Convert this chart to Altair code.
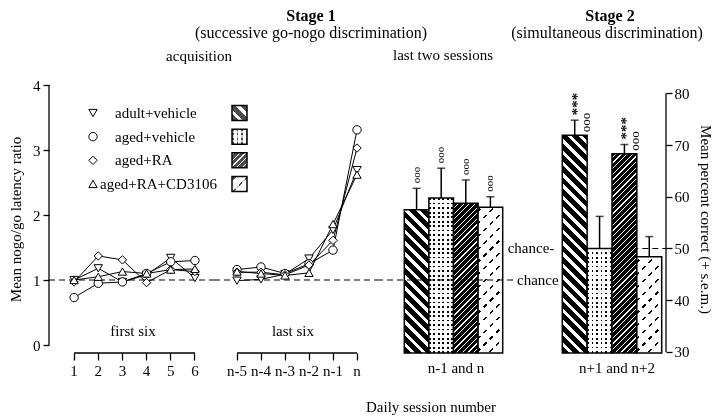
import math
import altair as alt
import pandas as pd

SERIF = "Liberation Serif"

# ---------------- data ----------------
groups = ["adult+vehicle", "aged+vehicle", "aged+RA", "aged+RA+CD3106"]
shapes = ["triangle-down", "circle", "diamond", "triangle-up"]
sessions_first = ["1", "2", "3", "4", "5", "6"]
sessions_last = ["n-5", "n-4", "n-3", "n-2", "n-1", "n"]

ratio_adult_vehicle = [1.00, 1.18, 0.97, 1.08, 1.34, 1.03, 0.99, 1.01, 1.09, 1.33, 1.77, 2.69]
ratio_aged_vehicle = [0.73, 0.95, 0.97, 1.10, 1.28, 1.30, 1.16, 1.20, 1.10, 1.25, 1.46, 3.31]
ratio_aged_ra = [0.97, 1.37, 1.31, 0.96, 1.16, 1.13, 1.12, 1.12, 1.08, 1.23, 1.61, 3.03]
ratio_aged_ra_cd3106 = [1.00, 1.05, 1.13, 1.10, 1.16, 1.17, 1.13, 1.10, 1.07, 1.11, 1.86, 2.62]

stage1_mean = [2.08, 2.26, 2.18, 2.12]
stage1_sem_top = [2.41, 2.72, 2.54, 2.28]
stage1_vs_chance = ["ooo", "ooo", "ooo", "ooo"]

stage2_mean = [71.9, 50.0, 68.3, 48.4]
stage2_sem_top = [74.8, 56.2, 70.1, 52.3]
stage2_vs_chance = ["ooo", "", "ooo", ""]
stage2_vs_aged = ["***", "", "***", ""]

ratio_ticks = [0, 1, 2, 3, 4]
percent_ticks = [30, 40, 50, 60, 70, 80]
chance_ratio = 1
chance_percent = 50

# ---------------- layout ----------------
H = 268
W_A, W_B, W_C, W_D = 166, 165, 133, 153
RANGE_A = [13, 158]
RANGE_B = [10, 154]
RANGE_C = [24.3, 122.7]
RANGE_D = [49.3, 148.7]
RATIO_DOMAIN = [-0.123, 4]
PCT_DOMAIN = [29.8, 81.6]
LEG_SIDE = 15

ratio_scale = alt.Scale(domain=RATIO_DOMAIN, nice=False, zero=False)
pct_scale = alt.Scale(domain=PCT_DOMAIN, nice=False, zero=False)
shape_scale = alt.Scale(domain=groups, range=shapes)

# ---------------- tables ----------------
all_vals = [ratio_adult_vehicle, ratio_aged_vehicle, ratio_aged_ra, ratio_aged_ra_cd3106]
rows = []
for g, vals in zip(groups, all_vals):
    for i, (s, v) in enumerate(zip(sessions_first + sessions_last, vals)):
        rows.append({"group": g, "session": s, "ratio": v, "idx": i,
                     "phase": "first" if i < 6 else "last"})
lines_df = pd.DataFrame(rows)

stage1_df = pd.DataFrame({"group": groups, "mean": stage1_mean, "top": stage1_sem_top,
                          "ooo": stage1_vs_chance})
stage2_df = pd.DataFrame({"group": groups, "mean": stage2_mean, "top": stage2_sem_top,
                          "ooo": stage2_vs_chance, "stars": stage2_vs_aged})
legend_df = pd.DataFrame({"group": groups})


# ---------------- pattern fills ----------------
def stripes(w, h, d, period, duty, ink="black", paper="white"):
    dx, dy = d
    gx, gy = dy / h, -dx / w
    corners = [(0, 0), (1, 0), (0, 1), (1, 1)]
    proj = [cx * gx + cy * gy for cx, cy in corners]
    lo = min(proj)
    R = max(proj) - lo
    p1 = corners[proj.index(lo)]
    g2 = gx * gx + gy * gy
    x2 = p1[0] + gx * R / g2
    y2 = p1[1] + gy * R / g2
    n = math.hypot(dx, dy)
    nx, ny = dy / n, -dx / n
    pp = [cx * w * nx + cy * h * ny for cx, cy in corners]
    L = max(pp) - min(pp)
    stops = []
    k = 0
    while k * period < L:
        a = k * period / L
        b = min((k + duty) * period / L, 1.0)
        c = min((k + 1) * period / L, 1.0)
        stops += [(a, ink), (b, ink), (b, paper), (c, paper)]
        k += 1
    return alt.LinearGradient(
        gradient="linear", x1=p1[0], y1=p1[1], x2=round(x2, 5), y2=round(y2, 5),
        stops=[alt.GradientStop(offset=round(o, 5), color=col) for o, col in stops])


def pattern_layers(chart, kind, w, h, mark):
    def mk(**kw):
        if mark == "bar":
            return chart.mark_bar(**kw)
        return chart.mark_square(size=LEG_SIDE * LEG_SIDE, **kw)
    out = []
    if kind == 0:
        out.append(mk(fill=stripes(w, h, (1, 1), 8, 0.6), strokeWidth=0))
    elif kind == 1:
        out.append(mk(fill=stripes(w, h, (0, 1), 4.5, 0.38), strokeWidth=0))
        out.append(mk(fill=stripes(w, h, (1, 0), 4.5, 0.38), strokeWidth=0, blend="lighten"))
    elif kind == 2:
        out.append(mk(fill=stripes(w, h, (1, -1), 4, 0.78), strokeWidth=0))
    else:
        out.append(mk(fill=stripes(w, h, (1, -1), 9, 0.18), strokeWidth=0))
        out.append(mk(fill=stripes(w, h, (1, 1), 9, 0.5), strokeWidth=0, blend="lighten"))
    out.append(mk(fillOpacity=0, stroke="black", strokeWidth=1.5))
    return out


def label(text, x, y, size=15, weight="normal", align="center"):
    return alt.Chart(pd.DataFrame({"t": [text]})).mark_text(
        font=SERIF, fontSize=size, fontWeight=weight, align=align, baseline="middle",
        color="black").encode(x=alt.value(x), y=alt.value(y), text="t:N")


AX_X = alt.Axis(title=None, domain=False, ticks=True, tickSize=7, tickWidth=1.3,
                labelPadding=3, labelAngle=0, labelFontSize=15)
AX_LEFT = alt.Axis(values=ratio_ticks, title="Mean nogo/go latency ratio", domain=False,
                   tickSize=6, tickWidth=1.3, labelPadding=3, titlePadding=9, format="d",
                   labelFlush=False)
AX_RIGHT = alt.Axis(orient="right", values=percent_ticks, title="Mean percent correct (+ s.e.m.)",
                    domain=False, tickSize=6, tickWidth=1.3, labelPadding=2, titlePadding=8,
                    format="d", labelFlush=False)


def session_panel(phase, sessions, rng, width, with_axis, extra):
    xs = lambda f: alt.X(f, sort=sessions, scale=alt.Scale(domain=sessions, range=rng), axis=AX_X)
    ax = AX_LEFT if with_axis else None
    ys = lambda f: alt.Y(f, scale=ratio_scale, axis=ax)
    data = lines_df[lines_df["phase"] == phase]
    base = alt.Chart(data)
    chance_df = pd.DataFrame({"chance": [chance_ratio]})
    layers = [
        alt.Chart(chance_df).mark_rule(strokeDash=[6, 4], strokeWidth=1.2, color="black")
        .encode(y=ys("chance:Q")),
        base.mark_line(color="black", strokeWidth=1).encode(
            x=xs("session:N"), y=ys("ratio:Q"), detail="group:N", order="idx:Q"),
        base.mark_point(filled=True, fill="white", stroke="black", strokeWidth=1,
                        size=70, opacity=1).encode(
            x=xs("session:N"), y=ys("ratio:Q"),
            shape=alt.Shape("group:N", scale=shape_scale, legend=None)),
        alt.Chart(pd.DataFrame({"start": [sessions[0]], "end": [sessions[-1]]}))
        .mark_rule(color="black", strokeWidth=1.3)
        .encode(x=xs("start:N"), x2="end:N", y=alt.value(H)),
    ]
    if with_axis:
        layers.append(
            alt.Chart(pd.DataFrame({"lo": [ratio_ticks[0]], "hi": [ratio_ticks[-1]]}))
            .mark_rule(color="black", strokeWidth=1.3)
            .encode(x=alt.value(0), y=ys("lo:Q"), y2="hi:Q"))
    layers += extra
    return alt.layer(*layers)


# ---------------- panel A: first six + legend ----------------
main_a = session_panel("first", sessions_first, RANGE_A, W_A, True,
                       [label("first six", 84, 246)])
y_leg = alt.Y("group:N", sort=groups, scale=alt.Scale(domain=groups, range=[28, 99], padding=0),
              axis=None)
leg_layers = [
    alt.Chart(legend_df).mark_point(filled=True, fill="white", stroke="black", strokeWidth=1,
                                    size=70, opacity=1)
    .encode(x=alt.value(44), y=y_leg, shape=alt.Shape("group:N", scale=shape_scale, legend=None)),
    alt.Chart(legend_df).transform_filter(alt.FieldOneOfPredicate(field="group", oneOf=groups[:3]))
    .mark_text(font=SERIF, fontSize=15, align="left", baseline="middle", color="black")
    .encode(x=alt.value(66), y=y_leg, text="group:N"),
    alt.Chart(legend_df).transform_filter(alt.datum.group == groups[3])
    .mark_text(font=SERIF, fontSize=15, align="left", baseline="middle", color="black")
    .encode(x=alt.value(51), y=y_leg, text="group:N"),
]
for i, g in enumerate(groups):
    ch = alt.Chart(legend_df).transform_filter(alt.datum.group == g).encode(
        x=alt.value(190.5), y=y_leg)
    leg_layers += pattern_layers(ch, i, LEG_SIDE, LEG_SIDE, "square")
panel_a = alt.layer(main_a, alt.layer(*leg_layers)).resolve_scale(y="independent").properties(
    width=W_A, height=H)

# ---------------- panel B: last six ----------------
panel_b = session_panel("last", sessions_last, RANGE_B, W_B, False, [
    label("last six", 78, 246),
    label("Stage 1", 96, -69, size=16, weight="bold"),
    label("(successive go-nogo discrimination)", 96, -52, size=16),
    label("acquisition", -16, -29),
]).properties(width=W_B, height=H)

# ---------------- panel C: stage 1 bars ----------------
band_c = (RANGE_C[1] - RANGE_C[0]) / len(groups)
x_c = alt.X("group:N", sort=groups,
            scale=alt.Scale(domain=groups, range=RANGE_C, paddingInner=0, paddingOuter=0), axis=None)
yc = lambda f: alt.Y(f, scale=ratio_scale, axis=None, stack=None)
layers_c = []
for i, g in enumerate(groups):
    h = (stage1_mean[i] - RATIO_DOMAIN[0]) / (RATIO_DOMAIN[1] - RATIO_DOMAIN[0]) * H
    ch = alt.Chart(stage1_df).transform_filter(alt.datum.group == g).encode(
        x=x_c, y=yc("mean:Q"), y2=alt.value(H))
    layers_c += pattern_layers(ch, i, band_c, h, "bar")
base_c = alt.Chart(stage1_df)
layers_c += [
    alt.Chart(pd.DataFrame({"chance": [chance_ratio]})).mark_rule(
        strokeDash=[6, 4], strokeWidth=1.2, color="black").encode(y=yc("chance:Q")),
    base_c.mark_rule(color="black", strokeWidth=1.5).encode(x=x_c, y=yc("mean:Q"), y2="top:Q"),
    base_c.mark_tick(orient="horizontal", size=8, thickness=1.5, color="black")
    .encode(x=x_c, y=yc("top:Q")),
    base_c.mark_text(font=SERIF, fontSize=11, angle=270, align="left", baseline="middle",
                     yOffset=-5, color="black").encode(x=x_c, y=yc("top:Q"), text="ooo:N"),
    alt.Chart(pd.DataFrame({"chance": [chance_ratio]})).mark_text(
        font=SERIF, fontSize=15, align="left", baseline="middle", color="black")
    .encode(x=alt.value(W_C + 4), y=yc("chance:Q"), text=alt.value("chance")),
    label("n-1 and n", 76, 283),
    label("Daily session number", 51, 322),
    label("last two sessions", 63, -30),
]
panel_c = alt.layer(*layers_c).properties(width=W_C, height=H)

# ---------------- panel D: stage 2 bars ----------------
band_d = (RANGE_D[1] - RANGE_D[0]) / len(groups)
x_d = alt.X("group:N", sort=groups,
            scale=alt.Scale(domain=groups, range=RANGE_D, paddingInner=0, paddingOuter=0), axis=None)
yd = lambda f: alt.Y(f, scale=pct_scale, axis=AX_RIGHT, stack=None)
chance_d = pd.DataFrame({"chance": [chance_percent]})
layers_d = [alt.Chart(chance_d).mark_rule(strokeDash=[6, 4], strokeWidth=1.2, color="black")
            .encode(y=yd("chance:Q"), x=alt.value(RANGE_D[0]), x2=alt.value(W_D))]
for i, g in enumerate(groups):
    h = (stage2_mean[i] - PCT_DOMAIN[0]) / (PCT_DOMAIN[1] - PCT_DOMAIN[0]) * H
    ch = alt.Chart(stage2_df).transform_filter(alt.datum.group == g).encode(
        x=x_d, y=yd("mean:Q"), y2=alt.value(H))
    layers_d += pattern_layers(ch, i, band_d, h, "bar")
base_d = alt.Chart(stage2_df)
layers_d += [
    base_d.mark_rule(color="black", strokeWidth=1.5).encode(x=x_d, y=yd("mean:Q"), y2="top:Q"),
    base_d.mark_tick(orient="horizontal", size=8, thickness=1.5, color="black")
    .encode(x=x_d, y=yd("top:Q")),
    base_d.mark_text(font=SERIF, fontSize=13, angle=270, align="left", baseline="middle",
                     xOffset=11, yOffset=-3, color="black").encode(x=x_d, y=yd("mean:Q"), text="ooo:N"),
    base_d.mark_text(font=SERIF, fontSize=15, fontWeight="bold", angle=270, align="left",
                     baseline="middle", xOffset=2, yOffset=-5, color="black")
    .encode(x=x_d, y=yd("top:Q"), text="stars:N"),
    alt.Chart(pd.DataFrame({"lo": [percent_ticks[0]], "hi": [percent_ticks[-1]]}))
    .mark_rule(color="black", strokeWidth=1.3).encode(x=alt.value(W_D), y=yd("lo:Q"), y2="hi:Q"),
    alt.Chart(chance_d).mark_text(font=SERIF, fontSize=15, align="right", baseline="middle",
                                  color="black")
    .encode(x=alt.value(RANGE_D[0] - 8), y=yd("chance:Q"), text=alt.value("chance-")),
    label("n+1 and n+2", 104, 283),
    label("Stage 2", 97, -69, size=16, weight="bold"),
    label("(simultaneous discrimination)", 94, -52, size=16),
]
panel_d = alt.layer(*layers_d).properties(width=W_D, height=H)

chart = alt.hconcat(panel_a, panel_b, panel_c, panel_d, spacing=0, bounds="flush").properties(
    padding={"left": 0, "top": 0, "right": 0, "bottom": 0}
).configure_view(stroke=None).configure_axis(
    labelFont=SERIF, titleFont=SERIF, labelFontSize=15, titleFontSize=15,
    titleFontWeight="normal", labelColor="black", titleColor="black", tickColor="black",
    grid=False)

chart.save("out.html", embed_options={"renderer": "svg", "actions": False})
